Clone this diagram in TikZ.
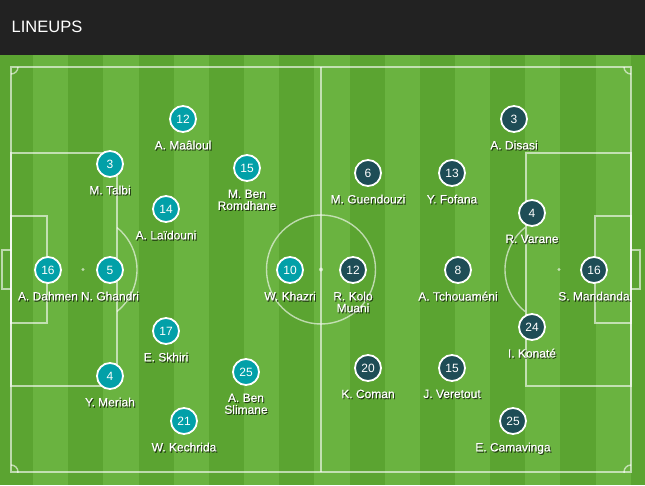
\documentclass[tikz,border=0pt]{standalone}
\usepackage{fontspec}
\setmainfont{Liberation Sans}
\newfontfamily\lblfont[FakeBold=0.25]{Liberation Sans}
\definecolor{hdr}{RGB}{34,34,34}
\definecolor{gdark}{RGB}{91,164,49}
\definecolor{glight}{RGB}{106,179,64}
\definecolor{tun}{RGB}{2,160,168}
\definecolor{fra}{RGB}{30,77,86}
\tikzset{
  pline/.style={draw=white, draw opacity=0.6, line width=1.4pt},
  pcirc/.style={circle, draw=white, line width=1.8pt, minimum size=26pt, inner sep=0pt,
    text=white, font=\fontsize{12}{12}\selectfont},
  tunp/.style={pcirc, fill=tun},
  frap/.style={pcirc, fill=fra},
  lbl/.style={anchor=north, inner sep=0pt, align=center, text=white,
    font=\lblfont\fontsize{12}{11.8}\selectfont},
  lblsh/.style={lbl, text=black, text opacity=0.6},
}
% \pl{id}{x}{y}{number}{label}{style}
\newcommand{\pl}[6]{%
  \node[#6] (#1) at (#2,#3) {#4};
  \node[lblsh] (#1s) at ($(#2,#3)+(1,22.6)$) {#5};
  \node[lbl] (#1l) at ($(#2,#3)+(0,21.5)$) {#5};
}
\usetikzlibrary{calc}
\begin{document}
\begin{tikzpicture}[x=1pt,y=-1pt]
\useasboundingbox (0,0) rectangle (645,485);
% header
\fill[hdr] (0,0) rectangle (645,55);
\node[anchor=west, text=white, font=\fontsize{16.5}{16.5}\selectfont, inner sep=0pt] (title) at (11.5,27) {LINEUPS};
% grass stripes
\foreach \k in {0,...,18}{
  \pgfmathsetmacro{\xa}{-2+35.15*\k}
  \pgfmathsetmacro{\xb}{-2+35.15*(\k+1)}
  \pgfmathparse{mod(\k,2)==0 ? 1 : 0}
  \ifnum\pgfmathresult=1
    \fill[gdark] (\xa,55) rectangle (\xb,485);
  \else
    \fill[glight] (\xa,55) rectangle (\xb,485);
  \fi
}
% pitch markings
\draw[pline] (11,67) rectangle (631,472);
\draw[pline] (321,67) -- (321,472);
\draw[pline] (321,269.5) circle[radius=54.5];
\fill[white, opacity=0.6] (321,269.5) circle[radius=2];
% left side
\draw[pline] (11,153) rectangle (117,386);
\draw[pline] (11,216) rectangle (47,323);
\draw[pline] (11,250) -- (2,250) -- (2,289) -- (11,289);
\fill[white, opacity=0.6] (83,269.5) circle[radius=1.6];
\draw[pline] (83,269.5) ++(51:54) arc[start angle=51, end angle=-51, radius=54];
% right side
\draw[pline] (526,153) rectangle (631,386);
\draw[pline] (595,216) rectangle (631,323);
\draw[pline] (631,250) -- (640,250) -- (640,289) -- (631,289);
\fill[white, opacity=0.6] (559,269.5) circle[radius=1.6];
\draw[pline] (559,269.5) ++(129:54) arc[start angle=129, end angle=231, radius=54];
% corners
\begin{scope}
\clip (11,67) rectangle (631,472);
\draw[pline] (11,67) circle[radius=7];
\draw[pline] (631,67) circle[radius=7];
\draw[pline] (11,472) circle[radius=7];
\draw[pline] (631,472) circle[radius=7];
\end{scope}
% Tunisia
\pl{t12}{183}{119}{12}{A. Maâloul}{tunp}
\pl{t3}{110}{164}{3}{M. Talbi}{tunp}
\pl{t15}{247}{168}{15}{M. Ben\\Romdhane}{tunp}
\pl{t14}{166}{209}{14}{A. Laïdouni}{tunp}
\pl{t16}{48}{270}{16}{A. Dahmen}{tunp}
\pl{t5}{110}{270}{5}{N. Ghandri}{tunp}
\pl{t10}{290}{270}{10}{W. Khazri}{tunp}
\pl{t17}{166}{331}{17}{E. Skhiri}{tunp}
\pl{t4}{110}{376}{4}{Y. Meriah}{tunp}
\pl{t25}{246}{372}{25}{A. Ben\\Slimane}{tunp}
\pl{t21}{184}{421}{21}{W. Kechrida}{tunp}
% France
\pl{f3}{514}{119}{3}{A. Disasi}{frap}
\pl{f6}{368}{173}{6}{M. Guendouzi}{frap}
\pl{f13}{452}{173}{13}{Y. Fofana}{frap}
\pl{f4}{532}{213}{4}{R. Varane}{frap}
\pl{f12}{353}{270}{12}{R. Kolo\\Muani}{frap}
\pl{f8}{458}{270}{8}{A. Tchouaméni}{frap}
\pl{f16}{594}{270}{16}{S. Mandanda}{frap}
\pl{f24}{532}{327}{24}{I. Konaté}{frap}
\pl{f20}{368}{368}{20}{K. Coman}{frap}
\pl{f15}{452}{368}{15}{J. Veretout}{frap}
\pl{f25}{513}{421}{25}{E. Camavinga}{frap}
\end{tikzpicture}
\end{document}
